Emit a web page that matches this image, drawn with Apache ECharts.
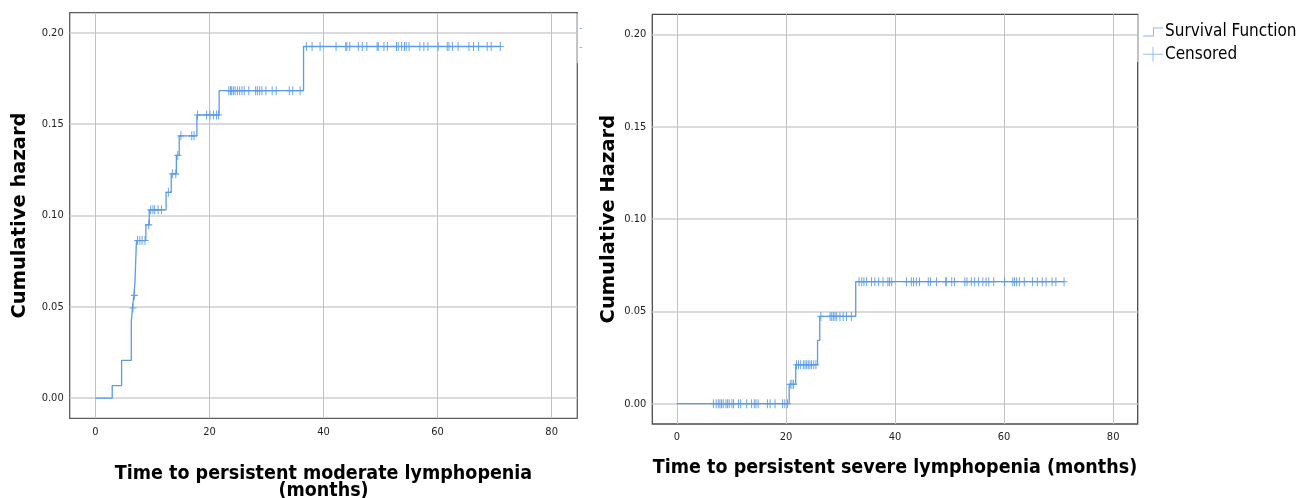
<!DOCTYPE html>
<html>
<head>
<meta charset="utf-8">
<script src="https://cdn.jsdelivr.net/npm/echarts@6/dist/echarts.min.js"></script>
<style>
  html, body { margin: 0; padding: 0; background: #fff; }
  #main { width: 1315px; height: 498px; }
</style>
</head>
<body>
<div id="main"></div>
<script>
// moderate lymphopenia: times where cumulative hazard steps up, and the new level
const moderateStepTimes = [0, 2.95, 4.6, 6.3, 6.5, 6.75, 6.95, 7.2, 8.85, 9.45, 12.4, 13.3, 14.2, 14.7, 17.8, 21.7, 36.5];
const moderateStepHazard = [0, 0.0069, 0.0207, 0.0418, 0.0494, 0.0563, 0.0636, 0.0863, 0.0949, 0.1031, 0.1127, 0.1228, 0.1329, 0.1436, 0.155, 0.1683, 0.1925];
const moderateLastTime = 71.0;
const moderateCensored = [6.6, 6.85, 7.4, 7.8, 8.2, 8.7, 9.35, 9.7, 10.1, 10.4, 11.0, 11.6, 12.8, 13.55, 14.1, 14.45,
  15.0, 16.9, 17.3, 17.9, 19.5, 20.1, 20.7, 21.25, 21.6, 23.4, 23.7, 23.9, 24.2, 24.5, 24.9, 25.3, 25.7, 26.1, 26.9,
  28.1, 28.4, 28.8, 29.2, 29.9, 31.0, 31.7, 34.0, 34.6, 35.9, 37.0, 38.0, 39.4, 42.2, 43.9, 44.1, 44.6, 46.1, 46.8,
  47.6, 49.4, 49.6, 50.6, 51.2, 52.8, 53.1, 53.7, 54.2, 54.5, 55.0, 56.9, 57.6, 58.3, 60.1, 61.7, 62.0, 62.6, 63.6,
  65.5, 66.3, 67.2, 68.7, 69.4, 71.0];

// severe lymphopenia
const severeStepTimes = [0, 20.6, 21.8, 25.8, 26.2, 32.8];
const severeStepHazard = [0, 0.0105, 0.0211, 0.0343, 0.0473, 0.0661];
const severeLastTime = 71.0;
const severeCensored = [6.7, 7.2, 7.6, 7.9, 8.2, 8.5, 9.0, 9.3, 9.6, 10.1, 10.4, 11.3, 11.7, 12.8, 13.7, 14.2, 14.5,
  14.9, 16.6, 17.1, 18.0, 19.4, 19.8, 20.3, 20.8, 21.1, 21.4, 21.95, 22.3, 22.7, 23.2, 23.5, 23.8, 24.1, 24.4, 24.7,
  25.1, 25.5, 26.4, 28.1, 28.4, 28.7, 29.0, 29.3, 29.9, 30.5, 31.1, 32.0, 33.4, 33.9, 34.3, 34.8, 35.7, 36.3, 37.0,
  37.8, 38.7, 39.0, 39.4, 42.1, 43.0, 43.4, 43.9, 44.5, 46.1, 46.5, 47.6, 49.3, 49.4, 50.4, 50.9, 52.8, 53.2, 54.0,
  54.6, 55.3, 56.1, 56.7, 57.2, 58.1, 60.1, 61.6, 61.9, 62.3, 62.8, 63.7, 65.2, 66.1, 67.0, 67.7, 68.8, 69.5, 71.0];

const xTicks = [0, 20, 40, 60, 80];
const yTicks = [0, 0.05, 0.10, 0.15, 0.20];

const LINE_COLOR = '#5b9be8';
const LEGEND_COLOR = '#8dbaf0';
const PLUS = 'path://M3,0h1v8h-1z M0,3.5h7v1h-7z';
const STEP_ICON = 'path://M0,8h10v-8h10v1h-9v8h-11z';
const CROSS_ICON = 'path://M0,7h20v1h-20z M9.5,0h1v15h-1z';

function stepLine(times, hazard, last) {
  const pts = times.map((t, i) => [t, hazard[i]]);
  pts.push([last, hazard[hazard.length - 1]]);
  return pts;
}

function levelAt(times, hazard, t) {
  let v = 0;
  for (let i = 0; i < times.length; i++) {
    if (times[i] <= t) v = hazard[i];
  }
  return v;
}

function censoredPoints(times, hazard, cens) {
  return cens.map(t => [t, levelAt(times, hazard, t)]);
}

const tickFont = { fontFamily: 'DejaVu Sans Condensed', fontSize: 11, color: '#222' };

function makeX(idx, title, gap, lineH) {
  return {
    type: 'value', gridIndex: idx, min: -4.5, max: 84.5,
    name: title, nameLocation: 'middle', nameGap: gap,
    nameTextStyle: { fontFamily: 'DejaVu Sans Condensed', fontWeight: 'bold', fontSize: 19.5, color: '#000', lineHeight: lineH },
    axisLine: { show: false },
    axisTick: { show: false, customValues: xTicks },
    axisLabel: Object.assign({ customValues: xTicks, margin: 8 }, tickFont),
    splitLine: { show: true, lineStyle: { color: '#c2c2c2', width: 1 } }
  };
}

function makeY(idx, title, gap) {
  return {
    type: 'value', gridIndex: idx, min: -0.011, max: 0.211,
    name: title, nameLocation: 'middle', nameGap: gap,
    nameTextStyle: { fontFamily: 'DejaVu Sans', fontWeight: 'bold', fontSize: 19.5, color: '#000' },
    axisLine: { show: false },
    axisTick: { show: false, customValues: yTicks },
    axisLabel: Object.assign({ customValues: yTicks, margin: 6, formatter: v => v.toFixed(2) }, tickFont),
    splitLine: { show: true, lineStyle: { color: '#cfcfcf', width: 1.6 } }
  };
}

function curveSeries(idx, pts) {
  return {
    name: 'Survival Function', type: 'line', xAxisIndex: idx, yAxisIndex: idx,
    step: 'end', data: pts, showSymbol: false, animation: false,
    lineStyle: { color: LINE_COLOR, width: 1.3 }, itemStyle: { color: LINE_COLOR }, z: 3
  };
}

function censorSeries(idx, pts) {
  return {
    name: 'Censored', type: 'scatter', xAxisIndex: idx, yAxisIndex: idx,
    data: pts, symbol: PLUS, symbolSize: [7, 9], animation: false,
    itemStyle: { color: LINE_COLOR, opacity: 0.9 }, z: 4
  };
}

const option = {
  backgroundColor: '#fff',
  animation: false,
  grid: [
    { left: 69.7, top: 12.7, width: 507.6, height: 405.6, outerBoundsMode: 'none', show: true, borderColor: '#5e5e5e', borderWidth: 1.3, backgroundColor: 'transparent' },
    { left: 652.3, top: 14.3, width: 485.4, height: 409.7, outerBoundsMode: 'none', show: true, borderColor: '#4a4a4a', borderWidth: 1.3, backgroundColor: 'transparent' }
  ],
  xAxis: [
    makeX(0, 'Time to persistent moderate lymphopenia\n(months)', 46.5, 17.5),
    makeX(1, 'Time to persistent severe lymphopenia (months)', 34.5, 18)
  ],
  yAxis: [
    makeY(0, 'Cumulative hazard', 39.5),
    makeY(1, 'Cumulative Hazard', 33.5)
  ],
  legend: [
    {
      left: 1138, top: 18.5, orient: 'vertical', itemWidth: 20, itemHeight: 9, itemGap: 0,
      selectedMode: false,
      textStyle: { fontFamily: 'DejaVu Sans Condensed', fontSize: 17, color: '#000', padding: [0, 0, 0, -3] },
      data: [{ name: 'Survival Function', icon: STEP_ICON, itemStyle: { color: LEGEND_COLOR } }]
    },
    {
      left: 1138, top: 40.8, orient: 'vertical', itemWidth: 20, itemHeight: 15, itemGap: 0,
      selectedMode: false,
      textStyle: { fontFamily: 'DejaVu Sans Condensed', fontSize: 17, color: '#000', padding: [0, 0, 0, -3] },
      data: [{ name: 'Censored', icon: CROSS_ICON, itemStyle: { color: LEGEND_COLOR } }]
    }
  ],
  graphic: [
    // legend area of the cropped left panel: lighter frame and icon stubs
    { type: 'line', z: 100, shape: { x1: 577.3, y1: 13.5, x2: 577.3, y2: 63 }, style: { stroke: '#c6c6c6', lineWidth: 1.3 } },
    { type: 'line', z: 100, shape: { x1: 579.5, y1: 28.5, x2: 582, y2: 28.5 }, style: { stroke: LEGEND_COLOR, lineWidth: 1 } },
    { type: 'line', z: 100, shape: { x1: 579.5, y1: 47.5, x2: 582, y2: 47.5 }, style: { stroke: LEGEND_COLOR, lineWidth: 1 } },
    { type: 'line', z: 100, shape: { x1: 1137.7, y1: 15, x2: 1137.7, y2: 62 }, style: { stroke: '#c6c6c6', lineWidth: 1.3 } }
  ],
  series: [
    curveSeries(0, stepLine(moderateStepTimes, moderateStepHazard, moderateLastTime)),
    censorSeries(0, censoredPoints(moderateStepTimes, moderateStepHazard, moderateCensored)),
    curveSeries(1, stepLine(severeStepTimes, severeStepHazard, severeLastTime)),
    censorSeries(1, censoredPoints(severeStepTimes, severeStepHazard, severeCensored))
  ]
};

const chart = echarts.init(document.getElementById('main'), null, { renderer: 'canvas' });
chart.setOption(option);
</script>
</body>
</html>
